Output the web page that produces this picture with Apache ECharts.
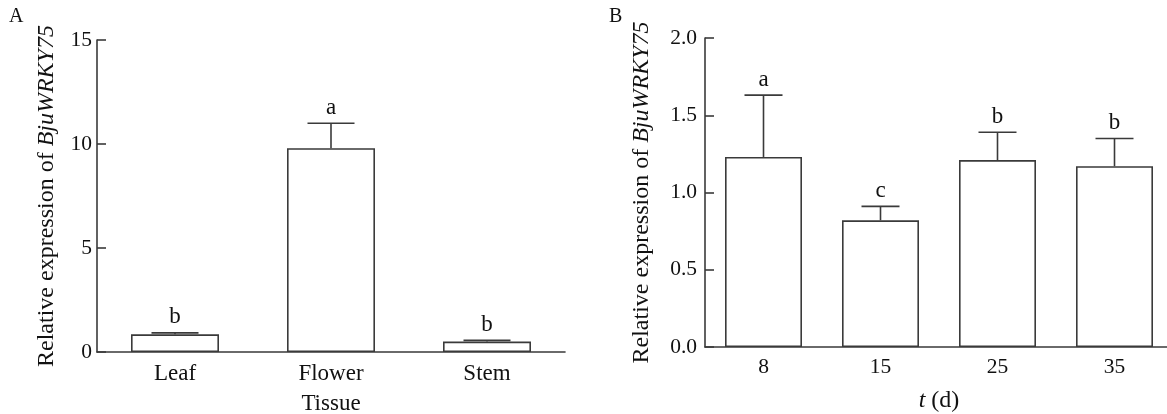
<!DOCTYPE html>
<html>
<head>
<meta charset="utf-8">
<script src="https://cdn.jsdelivr.net/npm/echarts@6/dist/echarts.min.js"></script>
<style>
  html, body { margin: 0; padding: 0; background: #fff; }
  #chart_main { width: 1167px; height: 414px; }
</style>
</head>
<body>
<div id="chart_main"></div>
<script>
// 数据：A 组织表达
var tissueNames = ['Leaf', 'Flower', 'Stem'];
var tissueMean = [0.85, 9.8, 0.5];
var tissueErr = [0.07, 1.2, 0.06];
var tissueLetters = ['b', 'a', 'b'];
var tissueTicks = [0, 5, 10, 15];

// 数据：B 时间表达
var dayNames = ['8', '15', '25', '35'];
var dayMean = [1.23, 0.82, 1.21, 1.17];
var dayErr = [0.40, 0.09, 0.18, 0.18];
var dayLetters = ['a', 'c', 'b', 'b'];
var dayTicks = [0, 0.5, 1.0, 1.5, 2.0];

var myChart = echarts.init(document.getElementById('chart_main'));
var FONT = 'Liberation Serif';
var lineColor = '#3a3a3a';

function errItem(capHalf) {
    return function (params, api) {
        var idx = api.value(0);
        var mean = api.value(1);
        var err = api.value(2);
        var p0 = api.coord([idx, mean]);
        var p1 = api.coord([idx, mean + err]);
        var style = { stroke: lineColor, lineWidth: 1.6 };
        return {
            type: 'group',
            children: [
                { type: 'line', shape: { x1: p0[0], y1: p0[1], x2: p1[0], y2: p1[1] }, style: style },
                { type: 'line', shape: { x1: p1[0] - capHalf, y1: p1[1], x2: p1[0] + capHalf, y2: p1[1] }, style: style },
                {
                    type: 'text',
                    x: p1[0], y: p1[1] - 4,
                    style: {
                        text: api.value(3),
                        fontFamily: FONT, fontSize: 23, fill: '#111',
                        align: 'center', verticalAlign: 'bottom'
                    }
                }
            ]
        };
    };
}

function errData(mean, err, letters) {
    return mean.map(function (m, i) {
        return [i, m, err[i], letters[i]];
    });
}

var axisLine = { lineStyle: { color: lineColor, width: 1.6 } };
var rich = { i: { fontStyle: 'italic', fontFamily: FONT, fontSize: 24, color: '#111' } };

option = {
    animation: false,
    textStyle: { fontFamily: FONT },
    title: [
        { text: 'A', left: 4, top: 2, textStyle: { fontFamily: FONT, fontSize: 20, fontWeight: 'normal', color: '#111' } },
        { text: 'B', left: 604, top: 2, textStyle: { fontFamily: FONT, fontSize: 20, fontWeight: 'normal', color: '#111' } }
    ],
    grid: [
        { left: 97, top: 40, width: 468, height: 312, outerBoundsMode: 'none' },
        { left: 705, top: 38, width: 468, height: 309, outerBoundsMode: 'none' }
    ],
    xAxis: [
        {
            type: 'category', gridIndex: 0, data: tissueNames,
            name: 'Tissue', nameLocation: 'middle', nameGap: 40,
            nameTextStyle: { fontFamily: FONT, fontSize: 23, color: '#111' },
            axisLine: axisLine,
            axisTick: { inside: true, alignWithLabel: true, length: 8, lineStyle: { color: lineColor, width: 1.6 } },
            axisLabel: { fontFamily: FONT, fontSize: 23, color: '#111', margin: 10 }
        },
        {
            type: 'category', gridIndex: 1, data: dayNames,
            name: '{i|t} (d)', nameLocation: 'middle', nameGap: 42,
            nameTextStyle: { fontFamily: FONT, fontSize: 24, color: '#111', rich: rich },
            axisLine: axisLine,
            axisTick: { inside: true, alignWithLabel: true, length: 8, lineStyle: { color: lineColor, width: 1.6 } },
            axisLabel: { fontFamily: FONT, fontSize: 21.5, color: '#111', margin: 9 }
        }
    ],
    yAxis: [
        {
            type: 'value', gridIndex: 0, min: tissueTicks[0], max: tissueTicks[tissueTicks.length - 1], interval: 5,
            name: 'Relative expression of {i|BjuWRKY75}', nameLocation: 'middle', nameGap: 38,
            nameTextStyle: { fontFamily: FONT, fontSize: 24, color: '#111', rich: rich },
            axisLine: { show: true, lineStyle: { color: lineColor, width: 1.6 } },
            axisTick: { show: true, inside: true, length: 9, lineStyle: { color: lineColor, width: 1.6 } },
            axisLabel: { fontFamily: FONT, fontSize: 21.5, color: '#111', margin: 5 },
            splitLine: { show: false }
        },
        {
            type: 'value', gridIndex: 1, min: dayTicks[0], max: dayTicks[dayTicks.length - 1], interval: 0.5,
            name: 'Relative expression of {i|BjuWRKY75}', nameLocation: 'middle', nameGap: 51,
            nameTextStyle: { fontFamily: FONT, fontSize: 24, color: '#111', rich: rich },
            axisLine: { show: true, lineStyle: { color: lineColor, width: 1.6 } },
            axisTick: { show: true, inside: true, length: 9, lineStyle: { color: lineColor, width: 1.6 } },
            axisLabel: {
                fontFamily: FONT, fontSize: 21.5, color: '#111', margin: 8,
                formatter: function (v) { return v.toFixed(1); }
            },
            splitLine: { show: false }
        }
    ],
    series: [
        {
            type: 'bar', xAxisIndex: 0, yAxisIndex: 0, data: tissueMean, barWidth: 88,
            itemStyle: { color: '#fff', borderColor: lineColor, borderWidth: 1.6 }, z: 2
        },
        {
            type: 'custom', xAxisIndex: 0, yAxisIndex: 0,
            renderItem: errItem(23.5), data: errData(tissueMean, tissueErr, tissueLetters), z: 3
        },
        {
            type: 'bar', xAxisIndex: 1, yAxisIndex: 1, data: dayMean, barWidth: 77,
            itemStyle: { color: '#fff', borderColor: lineColor, borderWidth: 1.6 }, z: 2
        },
        {
            type: 'custom', xAxisIndex: 1, yAxisIndex: 1,
            renderItem: errItem(19), data: errData(dayMean, dayErr, dayLetters), z: 3
        }
    ]
};

myChart.setOption(option);
window.addEventListener('resize', function () {
    myChart.resize();
});
</script>
</body>
</html>
